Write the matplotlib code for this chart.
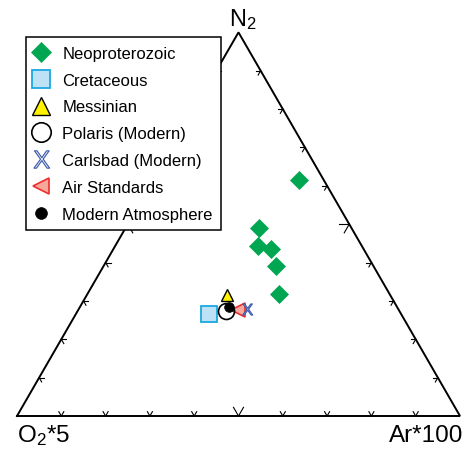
import matplotlib as mpl

mpl.use("Agg")

import matplotlib.pyplot as plt
import numpy as np
from matplotlib.font_manager import FontProperties
from matplotlib.lines import Line2D
from matplotlib.path import Path
from matplotlib.textpath import TextPath

plt.rcParams["font.family"] = ["Liberation Sans", "DejaVu Sans"]
plt.rcParams["mathtext.default"] = "regular"

# normalised compositions in percent: N2, O2*5, Ar*100
neo_n2 = [61.6, 49.1, 44.4, 43.5, 39.2, 31.9]
neo_o2 = [5.6, 20.9, 23.3, 21.0, 22.0, 24.9]
neo_ar = [32.8, 30.0, 32.3, 35.5, 38.8, 43.2]

cret_n2, cret_o2, cret_ar = [26.6], [43.4], [30.0]
mess_n2, mess_o2, mess_ar = [31.6], [36.9], [31.5]
polaris_n2, polaris_o2, polaris_ar = [27.4], [39.1], [33.5]
carlsbad_n2, carlsbad_o2, carlsbad_ar = [27.9], [34.2], [37.9]
air_n2, air_o2, air_ar = [27.7], [36.3], [36.0]
atm_n2, atm_o2, atm_ar = [28.3], [37.9], [33.8]

H = np.sqrt(3) / 2


def to_xy(n2, o2, ar):
    n2, o2, ar = (np.asarray(v, dtype=float) for v in (n2, o2, ar))
    total = n2 + o2 + ar
    a, c = n2 / total, ar / total
    return c + a / 2, a * H


# hollow "X" glyph used for the Carlsbad samples
glyph = TextPath((0, 0), "X", size=1, prop=FontProperties(family="Liberation Sans"))
verts = glyph.vertices.copy()
verts -= (verts.min(axis=0) + verts.max(axis=0)) / 2
x_glyph = Path(verts, glyph.codes)

fig = plt.figure(figsize=(4.76, 4.56), dpi=100)
ax = fig.add_axes([0, 0, 1, 1])
ax.set_xlim(-17 / 443, 459 / 443)
ax.set_ylim(-39 / 443, 417 / 443)
ax.axis("off")

# triangle frame
ax.plot([0, 1, 0.5, 0], [0, 0, H, 0], color="black", lw=1.4, zorder=1, solid_joinstyle="miter")

# chevron ticks every 10 %, the middle one bigger
edges = [
    ((0.0, 0.0), (1.0, 0.0), (60, 120)),      # bottom
    ((1.0, 0.0), (0.5, H), (180, 240)),       # right
    ((0.5, H), (0.0, 0.0), (0, 300)),         # left
]
for (x0, y0), (x1, y1), angles in edges:
    for i in range(1, 10):
        t = i / 10
        px, py = x0 + t * (x1 - x0), y0 + t * (y1 - y0)
        length = 0.0226 if i == 5 else 0.0113
        for ang in angles:
            r = np.radians(ang)
            ax.plot([px, px + length * np.cos(r)], [py, py + length * np.sin(r)],
                    color="black", lw=0.8, zorder=1)

green = "#00a651"
styles = {
    "neo": dict(marker="D", ms=9.6, mfc=green, mec=green, mew=0.5),
    "cret": dict(marker="s", ms=11.5, mfc="#bde2f6", mec="#1ba8e2", mew=1.3),
    "mess": dict(marker="^", ms=8.5, mfc="#fff200", mec="black", mew=1.0),
    "polaris": dict(marker="o", ms=11.5, mfc="none", mec="black", mew=1.2),
    "carlsbad": dict(marker=x_glyph, ms=8.0, mfc="#e4eaf7", mec="#3b58a8", mew=0.8),
    "air": dict(marker="<", ms=10.0, mfc="#f6a99b", mec="#ee2d2d", mew=1.2),
    "atm": dict(marker="o", ms=7.0, mfc="black", mec="black", mew=0.5),
}
series = [
    ("neo", neo_n2, neo_o2, neo_ar),
    ("cret", cret_n2, cret_o2, cret_ar),
    ("mess", mess_n2, mess_o2, mess_ar),
    ("air", air_n2, air_o2, air_ar),
    ("carlsbad", carlsbad_n2, carlsbad_o2, carlsbad_ar),
    ("polaris", polaris_n2, polaris_o2, polaris_ar),
    ("atm", atm_n2, atm_o2, atm_ar),
]
for key, n2, o2, ar in series:
    x, y = to_xy(n2, o2, ar)
    ax.plot(x, y, ls="none", zorder=3, **styles[key])

# vertex labels
ax.text(0.5 + 4 / 443, H + 7 / 443, "N$_2$", ha="center", va="baseline", fontsize=17)
ax.text(0.0, -25 / 443, "O$_2$*5", ha="left", va="baseline", fontsize=17.5)
ax.text(1.0 + 3 / 443, -25 / 443, "Ar*100", ha="right", va="baseline", fontsize=17.5)

# legend with slightly larger proxy markers
legend_sizes = {"neo": 10.2, "cret": 13.5, "mess": 13, "polaris": 14, "carlsbad": 12.5, "air": 11.5, "atm": 8.5}
labels = ["Neoproterozoic", "Cretaceous", "Messinian", "Polaris (Modern)",
          "Carlsbad (Modern)", "Air Standards", "Modern Atmosphere"]
keys = ["neo", "cret", "mess", "polaris", "carlsbad", "air", "atm"]
handles = []
for key in keys:
    st = dict(styles[key])
    st["ms"] = legend_sizes[key]
    handles.append(Line2D([], [], ls="none", **st))
leg = ax.legend(handles, labels, loc="upper left", bbox_to_anchor=(26 / 476, 1 - 38 / 456),
                bbox_transform=fig.transFigure, borderaxespad=0, fontsize=12,
                frameon=True, fancybox=False, framealpha=1, edgecolor="black",
                handlelength=0.7, handletextpad=0.95, borderpad=0.52, labelspacing=0.71)
leg.get_frame().set_linewidth(1.1)
leg.set_zorder(5)

fig.savefig("out.png", dpi=100, facecolor="white")
